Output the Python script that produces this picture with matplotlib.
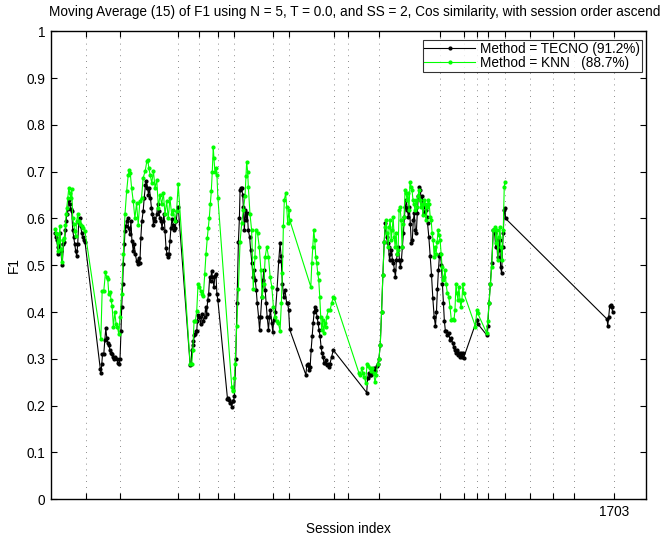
import matplotlib.pyplot as plt
import numpy as np

plt.rcParams['font.family'] = ['Liberation Sans', 'DejaVu Sans']

# session boundaries (x ticks), only the last one is labelled
session_ticks = [106, 210, 386, 448, 505, 556, 672, 722, 857, 899, 993, 1178,
                 1251, 1290, 1323, 1375, 1451, 1519, 1583, 1703]
tick_labels = [''] * (len(session_ticks) - 1) + ['1703']

# TECNO, moving average of F1 per session index
tecno_idx = [
    13, 16, 18, 21, 23, 26, 28, 31, 35, 39, 42, 45, 47, 49, 52, 55, 58, 61, 64, 67,
    70, 73, 76, 79, 82, 85, 88, 91, 94, 97, 100, 104,
    150, 152, 155, 157, 161, 164, 167, 170, 173, 176, 179, 182, 185, 188, 192, 196,
    200, 204, 207, 210,
    213, 215, 218, 220, 223, 225, 228, 230, 233, 236, 240, 243, 246, 250, 253, 256,
    260, 263, 266, 270, 273, 276, 280, 283, 287, 290, 293, 296, 299, 302, 305, 308,
    311, 314, 317, 321, 324, 327, 331, 334, 337, 340, 343, 346, 349, 352, 355, 358,
    361, 364, 367, 371, 374, 377, 380, 383, 386,
    422, 425, 427, 430, 432, 435, 437, 440, 442, 444, 446,
    450, 454, 458, 462, 466, 469, 472, 475, 478, 481, 484, 487, 490, 494, 497, 500,
    503, 506,
    535, 538, 541, 544, 548, 551, 553, 556,
    560, 564, 568, 571, 573, 575, 578, 581, 583, 586, 589, 592, 595, 598, 602, 605,
    609, 612, 615, 619, 622, 625, 629, 632, 635, 639, 642, 645, 649, 652, 655, 659,
    662, 665, 669, 672, 675, 680, 685, 690, 694, 697, 701, 705, 709, 714, 717, 720,
    723,
    772, 775, 778, 781, 785, 788, 791, 794, 797, 800, 803, 806, 809, 812, 815, 818,
    821, 824, 827, 830, 833, 836, 839, 842, 845, 850, 855,
    956, 959, 962, 966, 970, 974, 978, 982, 986, 990, 993, 997, 1001, 1005, 1009,
    1012, 1016, 1019, 1022, 1025, 1028, 1031, 1034, 1037, 1040, 1043, 1046, 1049,
    1052, 1055, 1058, 1061, 1064, 1067, 1070, 1073, 1076, 1079, 1082, 1085, 1088,
    1091, 1094, 1097, 1100, 1103, 1106, 1109, 1112, 1115, 1118, 1121, 1124, 1127,
    1130, 1134, 1137, 1140, 1144, 1148, 1152, 1156, 1160, 1164, 1167, 1170, 1173,
    1176, 1179, 1182, 1185, 1188, 1191, 1194, 1197, 1200, 1204, 1208, 1212, 1216,
    1219, 1222, 1225, 1228, 1231, 1234, 1237, 1240, 1243, 1246, 1249,
    1289, 1292, 1319, 1322, 1326, 1330, 1334, 1339, 1343, 1346, 1349, 1352, 1355,
    1358, 1361, 1364, 1367, 1369, 1372, 1374, 1376,
    1683, 1685, 1688, 1691, 1694, 1697, 1700,
]
tecno_f1 = [
    .57, .56, .555, .54, .525, .545, .57, .53, .50, .545, .55, .575, .595, .61, .62, .64,
    .63, .62, .615, .575, .56, .545, .53, .52, .545, .59, .60, .585, .57, .56, .555, .55,
    .279, .269, .29, .31, .311, .34, .365, .345, .335, .33, .32, .313, .31, .305, .30,
    .305, .30, .292, .29, .30,
    .36, .41, .46, .503, .545, .573, .585, .594, .60, .58, .566, .594, .552, .531, .545,
    .524, .51, .503, .515, .504, .559, .594, .616, .643, .672, .68, .665, .651, .665,
    .644, .623, .609, .587, .601, .594, .609, .63, .616, .601, .594, .58, .594, .609,
    .573, .538, .524, .518, .524, .552, .58, .598, .587, .576, .58, .594, .616, .625,
    .288, .29, .318, .33, .339, .35, .354, .36, .36, .38, .393,
    .389, .375, .395, .382, .389, .41, .396, .425, .439, .474, .467, .488, .474, .453,
    .478, .481, .439, .425,
    .215, .216, .212, .205, .198, .21, .21, .22,
    .30, .42, .55, .60, .661, .665, .665, .65, .625, .575, .618, .597, .611, .575, .56,
    .533, .504, .476, .49, .468, .447, .419, .39, .362, .39, .433, .468, .49, .447,
    .419, .39, .362, .39, .404, .376, .358, .383, .40, .45, .51, .547, .52, .461,
    .433, .447, .419, .419, .404, .363,
    .266, .287, .29, .276, .283, .319, .348, .376, .40, .411, .404, .39, .376, .362,
    .348, .326, .312, .305, .291, .291, .298, .287, .29, .283, .29, .305, .319,
    .228, .26, .27, .266, .265, .27, .28, .275, .285, .29, .30, .33, .40, .48, .55,
    .59, .561, .547, .54, .511, .525, .532, .511, .504, .489, .475, .511, .525,
    .54, .511, .497, .511, .54, .568, .604, .625, .64, .618, .604, .625, .589,
    .547, .554, .597, .611, .575, .568, .611, .647, .668, .661, .64, .647, .625,
    .611, .618, .604, .59, .56, .52, .48, .43, .39, .37, .40, .45, .49,
    .52, .525, .50, .46, .42, .38, .36, .36, .35, .355, .34, .345, .333,
    .326, .319, .312, .319, .308, .312, .305, .312, .305, .312, .302,
    .383, .375, .351, .37, .42, .46, .504, .575, .568, .54, .554, .518, .532,
    .554, .497, .483, .54, .568, .618, .622, .60,
    .385, .37, .39, .413, .415, .41, .40,
]

# KNN, moving average of F1 per session index
knn_idx = [
    13, 16, 18, 21, 23, 26, 28, 31, 35, 39, 42, 45, 47, 49, 52, 55, 58, 61, 64, 67,
    70, 73, 76, 79, 82, 85, 89, 94, 99, 104,
    152, 156, 161, 166, 170, 173, 176, 180, 183, 186, 190, 194, 198, 202, 206, 210,
    215, 220, 225, 230, 235, 238, 241, 245, 250, 255, 260, 265, 270, 275, 280, 286,
    291, 294, 297, 301, 306, 311, 316, 321, 326, 331, 336, 341, 346, 351, 356, 361,
    366, 371, 376, 381, 386,
    422, 427, 430, 434, 438, 442, 446,
    450, 454, 458, 462, 466, 470, 474, 477, 480, 483, 486, 489, 492, 494, 497, 500,
    503, 506,
    548, 551, 553, 556,
    558, 563, 568, 573, 578, 583, 588, 591, 593, 596, 598, 603, 608, 613, 618, 621,
    626, 631, 636, 640, 645, 649, 654, 659, 664, 669, 674, 679, 684, 689, 694, 698,
    701, 704, 707, 711, 714, 717, 721, 723,
    787, 790, 793, 796, 799, 802, 805, 808, 811, 814, 817, 820, 823, 826, 829, 832,
    835, 840, 845, 850, 855, 858,
    933, 937, 941, 945, 949, 953, 957, 961, 965, 969, 973, 977, 981, 985, 989, 993,
    997, 1001, 1005, 1009, 1012,
    1015, 1018, 1021, 1024, 1027, 1030, 1033, 1036, 1039, 1042, 1045, 1048, 1051,
    1054, 1057, 1060, 1063, 1066, 1069, 1072, 1075, 1078, 1081, 1084, 1087, 1090,
    1093, 1096, 1099, 1102, 1105, 1108, 1111, 1114, 1117, 1120, 1123, 1126, 1130,
    1133, 1136, 1139, 1142, 1145, 1148, 1151, 1154, 1157, 1160, 1163, 1166, 1169,
    1172, 1175, 1178,
    1181, 1184, 1187, 1190, 1193, 1196, 1200, 1204, 1208, 1212, 1216, 1220, 1223,
    1226, 1229, 1232, 1235, 1238, 1241, 1244, 1247, 1250,
    1285, 1289, 1292, 1319, 1322, 1326, 1330, 1334, 1339, 1344, 1347, 1350, 1353,
    1356, 1359, 1362, 1365, 1369, 1372, 1374,
]
knn_f1 = [
    .577, .57, .566, .549, .531, .555, .584, .535, .506, .555, .559, .587, .609, .623,
    .644, .665, .655, .644, .662, .60, .588, .574, .563, .595, .609, .595, .588, .584,
    .58, .573,
    .343, .446, .446, .485, .474, .47, .439, .442, .425, .414, .368, .40, .375, .368,
    .354, .389,
    .439, .524, .609, .658, .694, .704, .697, .665, .637, .60, .633, .587, .637, .644,
    .687, .701, .722, .726, .708, .694, .676, .701, .665, .683, .623, .651, .63, .655,
    .609, .637, .60, .644, .609, .619, .594, .616, .673,
    .29, .289, .318, .382, .382, .403, .46,
    .453, .446, .439, .435, .481, .524, .559, .58, .602, .63, .658, .70, .752, .729,
    .70, .708, .694, .644,
    .24, .232, .234, .26,
    .29, .37, .45, .55, .59, .618, .647, .69, .721, .70, .668, .61, .575, .45, .518,
    .575, .568, .54, .49, .433, .46, .518, .54, .518, .475, .454, .41, .39, .38, .376,
    .36, .42, .483, .583, .64, .654, .625, .59, .618, .597,
    .454, .504, .54, .575, .554, .518, .504, .483, .468, .433, .39, .362, .383, .355,
    .376, .369, .39, .404, .404, .419, .433, .43,
    .269, .265, .28, .269, .262, .248, .29, .285, .28, .275, .28, .27, .25, .265, .29,
    .30, .33, .40, .48, .55, .582,
    .597, .568, .54, .582, .597, .554, .575, .604, .561, .54, .568, .525, .532,
    .618, .625, .597, .54, .589, .604, .661, .654, .64, .654, .618, .679, .668,
    .661, .64, .632, .618, .64, .625, .647, .661, .64, .625, .632, .608, .64,
    .632, .597, .625, .64, .632, .604, .597, .568, .554, .518, .54, .525, .55,
    .575, .565, .555,
    .525, .497, .468, .475, .49, .461, .44, .433, .411, .383, .386, .383, .404,
    .461, .44, .426, .454, .426, .411, .426, .461, .44,
    .369, .404, .397, .355, .38, .42, .46, .497, .575, .582, .547, .575, .511,
    .561, .582, .54, .511, .575, .668, .679,
]

FS = 9.8

fig = plt.figure(figsize=(6.63, 5.36), dpi=100)
ax = fig.add_axes([0.0763, 0.0685, 0.8977, 0.8731])

ax.plot(tecno_idx, tecno_f1, '.-', color='k', lw=0.8, ms=4,
        label='Method = TECNO (91.2%)')
ax.plot(knn_idx, knn_f1, '.-', color=(0, 1, 0), lw=0.8, ms=4,
        label='Method = KNN   (88.7%)')

ax.set_xlim(0, 1800)
ax.set_ylim(0, 1)
ax.set_xticks(session_ticks)
ax.set_xticklabels(tick_labels)
ax.set_yticks(np.arange(0, 1.01, 0.1))
ax.set_yticklabels(['0', '0.1', '0.2', '0.3', '0.4', '0.5', '0.6', '0.7', '0.8', '0.9', '1'])
ax.tick_params(direction='in', top=True, right=True, length=4, width=0.8,
               labelsize=FS, pad=4)
ax.xaxis.grid(True, color='0.4', lw=0.6, linestyle=(0, (1, 6)))
for s in ax.spines.values():
    s.set_linewidth(1.0)

ax.set_xlabel('Session index', fontsize=FS, labelpad=2)
ax.set_ylabel('F1', fontsize=FS, labelpad=4)
fig.text(0.5355, 0.977,
         'Moving Average (15) of F1 using N = 5, T = 0.0, and SS = 2, '
         'Cos similarity, with session order ascend',
         ha='center', va='center', fontsize=FS)

leg = ax.legend(loc='upper right', bbox_to_anchor=(0.9933, 0.9814), fontsize=FS,
                frameon=True, fancybox=False, edgecolor='k', handlelength=3.7,
                handletextpad=0.4, borderpad=0.12, labelspacing=0.02,
                borderaxespad=0)
leg.get_frame().set_linewidth(0.8)

fig.savefig('out.png', dpi=100)
